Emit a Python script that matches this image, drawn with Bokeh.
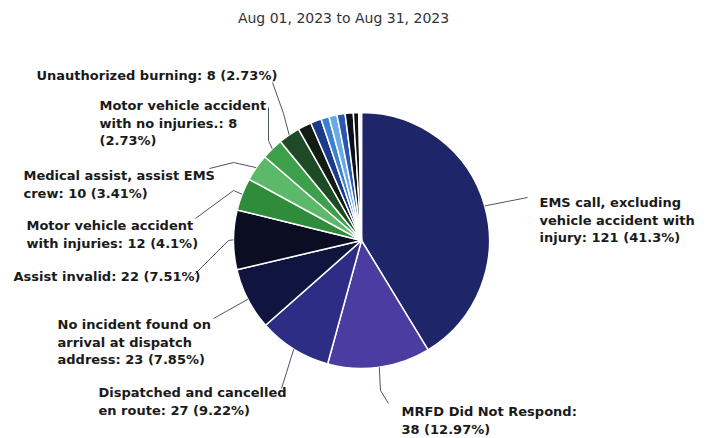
import math
import textwrap
from bokeh.plotting import figure
from bokeh.models import Range1d, ColumnDataSource
from bokeh.core.properties import value
from bokeh.embed import file_html
from bokeh.resources import INLINE

# ---------------- data ----------------
title_text = "Aug 01, 2023 to Aug 31, 2023"

categories = [
    "EMS call, excluding vehicle accident with injury",
    "MRFD Did Not Respond",
    "Dispatched and cancelled en route",
    "No incident found on arrival at dispatch address",
    "Assist invalid",
    "Motor vehicle accident with injuries",
    "Medical assist, assist EMS crew",
    "Motor vehicle accident with no injuries.",
    "Unauthorized burning",
    "Other A", "Other B", "Other C", "Other D",
    "Other E", "Other F", "Other G", "Other H",
]
counts = [121, 38, 27, 23, 22, 12, 10, 8, 8, 5, 4, 3, 3, 3, 3, 2, 1]
labeled = [True] * 9 + [False] * 8

# ---------------- styles / layout ----------------
colors = ["#1f2569", "#4b3ca2", "#2d2d86", "#10153f", "#0b0e22",
          "#2f8c3b", "#5db96a", "#3d9f49", "#1f4a26",
          "#131b15", "#1c3a8c", "#3d7fd0", "#6aa8e6", "#2a58b0",
          "#0d0f1a", "#111111", "#f4f4f4"]

W, H = 709, 438
cx_px, cy_px, R = 361, 240, 128

# label layout: (wrap width, text left x, first line y, leader waypoints) in pixels (y down)
label_layout = [
    (21, 539, 202, [(527, 197)]),
    (21, 401, 411, [(380, 390), (388, 403)]),
    (24, 98, 392, [(281, 388)]),
    (20, 57, 324, [(213, 318)]),
    (40, 13, 276, [(228, 240), (194, 274)]),
    (24, 26, 225, [(233, 190), (195, 218)]),
    (26, 23, 175, [(233, 162), (209, 168)]),
    (22, 99, 105, [(268, 140), (268, 107)]),
    (40, 36, 75, [(283, 113), (272, 82)]),
]
line_h = 17.5

total = sum(counts)

p = figure(width=W, height=H, x_range=Range1d(0, W), y_range=Range1d(0, H),
           output_backend="svg", toolbar_location=None, min_border=0)
p.axis.visible = False
p.grid.visible = False
p.outline_line_color = None
p.background_fill_color = "white"
p.border_fill_color = "white"

cx, cy = cx_px, H - cy_px

starts, ends, mids = [], [], []
cum = 0
for c in counts:
    a0 = 2 * math.pi * cum / total
    cum += c
    a1 = 2 * math.pi * cum / total
    starts.append(math.pi / 2 - a0)
    ends.append(math.pi / 2 - a1)
    mids.append((a0 + a1) / 2)

src = ColumnDataSource(dict(start=starts, end=ends, color=colors))
p.wedge(x=cx, y=cy, radius=R, start_angle="start", end_angle="end",
        direction="clock", fill_color="color", line_color="white",
        line_width=1.5, source=src)

# labels and leaders
tx, ty, tt = [], [], []
lxs, lys = [], []
li = 0
for i, cat in enumerate(categories):
    if not labeled[i]:
        continue
    pct = round(100 * counts[i] / total, 2)
    full = f"{cat}: {counts[i]} ({pct:g}%)"
    wrap, x0, y0, pts = label_layout[li]
    li += 1
    for k, ln in enumerate(textwrap.wrap(full, width=wrap)):
        tx.append(x0)
        ty.append(H - (y0 + k * line_h))
        tt.append(ln)
    th = mids[i]
    ex = cx + R * math.sin(th)
    ey = cy + R * math.cos(th)
    xs = [ex] + [q[0] for q in pts]
    ys = [ey] + [H - q[1] for q in pts]
    lxs.append(xs)
    lys.append(ys)

p.multi_line(xs=lxs, ys=lys, line_color="#4d5566", line_width=1)
p.text(x=tx, y=ty, text=tt, text_font=value("DejaVu Sans"), text_font_style="bold",
       text_font_size="13px", text_color="#1a1a1a", text_baseline="middle",
       text_align="left")

p.text(x=[343], y=[H - 17], text=[title_text], text_font=value("DejaVu Sans"),
       text_font_size="14px", text_color="#333333", text_baseline="middle",
       text_align="center")

open("out.html", "w").write(file_html(p, INLINE))
